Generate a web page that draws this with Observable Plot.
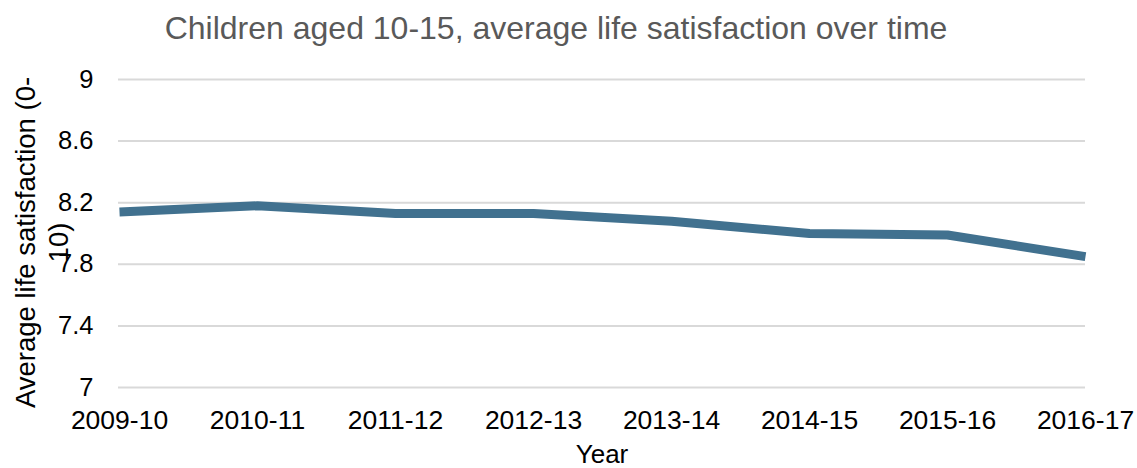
<!DOCTYPE html>
<html>
<head>
<meta charset="utf-8">
<script src="https://cdn.jsdelivr.net/npm/d3@7"></script>
<script src="https://cdn.jsdelivr.net/npm/@observablehq/plot@0.6"></script>
<style>
  html, body { margin: 0; padding: 0; background: #fff; }
  #chart svg { display: block; }
</style>
</head>
<body>
<div id="chart"></div>
<script>
const years = ["2009-10", "2010-11", "2011-12", "2012-13", "2013-14", "2014-15", "2015-16", "2016-17"];
const satisfaction = [8.14, 8.18, 8.13, 8.13, 8.08, 8.00, 7.99, 7.85];
const yTicks = [7, 7.4, 7.8, 8.2, 8.6, 9];
const titleText = "Children aged 10-15, average life satisfaction over time";
const yLabel = "Average life satisfaction (0-\n10)";
const xLabel = "Year";

const data = years.map((year, i) => ({year, value: satisfaction[i]}));
const font = "Liberation Sans, Arial, sans-serif";

const chart = Plot.plot({
  width: 1137,
  height: 468,
  marginTop: 79,
  marginBottom: 81,
  marginLeft: 118,
  marginRight: 52,
  style: {fontFamily: font, fontSize: "26px", color: "#000", background: "#fff"},
  x: {type: "point", domain: years, padding: 0},
  y: {domain: [7, 9]},
  marks: [
    Plot.gridY(yTicks, {stroke: "#d9d9d9", strokeOpacity: 1, strokeWidth: 2}),
    Plot.axisY(yTicks, {tickSize: 0, tickPadding: 25, tickFormat: d => String(d), label: null, fontSize: 25.5, fill: "#000"}),
    Plot.axisX({tickSize: 0, tickPadding: 23, label: null, fontSize: 26.5, fill: "#000"}),
    Plot.line(data, {x: "year", y: "value", stroke: "#41718f", strokeWidth: 9, strokeLinejoin: "round", strokeLinecap: "butt"}),
    Plot.text([titleText], {frameAnchor: "top", text: d => d, textAnchor: "middle", dx: -46, dy: -63, lineAnchor: "top", fontSize: 32, fill: "#595959"}),
    Plot.text([xLabel], {frameAnchor: "bottom", text: d => d, textAnchor: "middle", dy: 57, lineAnchor: "top", fontSize: 26, fill: "#000"}),
    Plot.text([yLabel], {frameAnchor: "left", text: d => d, textAnchor: "middle", rotate: -90, dx: -78, dy: 9, lineAnchor: "middle", lineHeight: 1.2, fontSize: 27.5, fill: "#000"})
  ]
});
document.getElementById("chart").appendChild(chart);
</script>
</body>
</html>
